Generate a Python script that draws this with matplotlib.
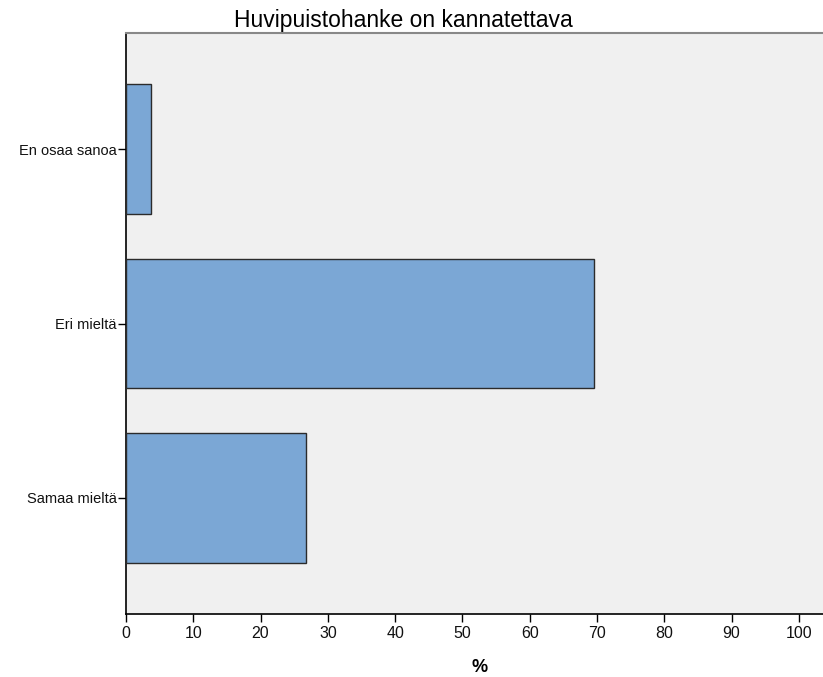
import matplotlib
matplotlib.use("Agg")
import matplotlib.pyplot as plt

categories = ["Samaa mieltä", "Eri mieltä", "En osaa sanoa"]
values = [26.7, 69.6, 3.7]
xticks = [0, 10, 20, 30, 40, 50, 60, 70, 80, 90, 100]

plt.rcParams['font.family'] = ['Liberation Sans', 'DejaVu Sans']

fig = plt.figure(figsize=(8.23, 6.77), dpi=100)
ax = fig.add_axes([126/823, 1-614/677, 1-126/823, (614-33)/677])
ax.set_facecolor('#F0F0F0')
ypos = list(range(len(categories)))
ax.barh(ypos, values, height=0.745, color='#7BA7D5', edgecolor='#2B2B2B', linewidth=1.0, zorder=3)
ax.set_yticks(ypos)
ax.set_yticklabels(categories, fontsize=10.5, color='#111111')
ax.set_ylim(-0.665, 2.665)
ax.set_xlim(0, 103.6)
ax.set_xticks(xticks)
ax.set_xticklabels([str(t) for t in xticks], fontsize=11.5, color='#111111')
ax.tick_params(axis='y', direction='out', length=5.8, width=1, pad=1)
ax.tick_params(axis='x', direction='out', length=5.8, width=1, pad=3)
for s in ['left', 'bottom']:
    ax.spines[s].set_color('#000000')
    ax.spines[s].set_linewidth(1.2)
ax.spines['top'].set_color('#888888')
ax.spines['top'].set_linewidth(1.5)
ax.spines['right'].set_visible(False)

fig.text(403/823, 1-27/677, "Huvipuistohanke on kannatettava", ha='center', va='baseline', fontsize=16.5)
fig.text(480/823, 1-667/677, "%", ha='center', va='center', fontsize=13, fontweight='bold')

fig.savefig("out.png", dpi=100)
